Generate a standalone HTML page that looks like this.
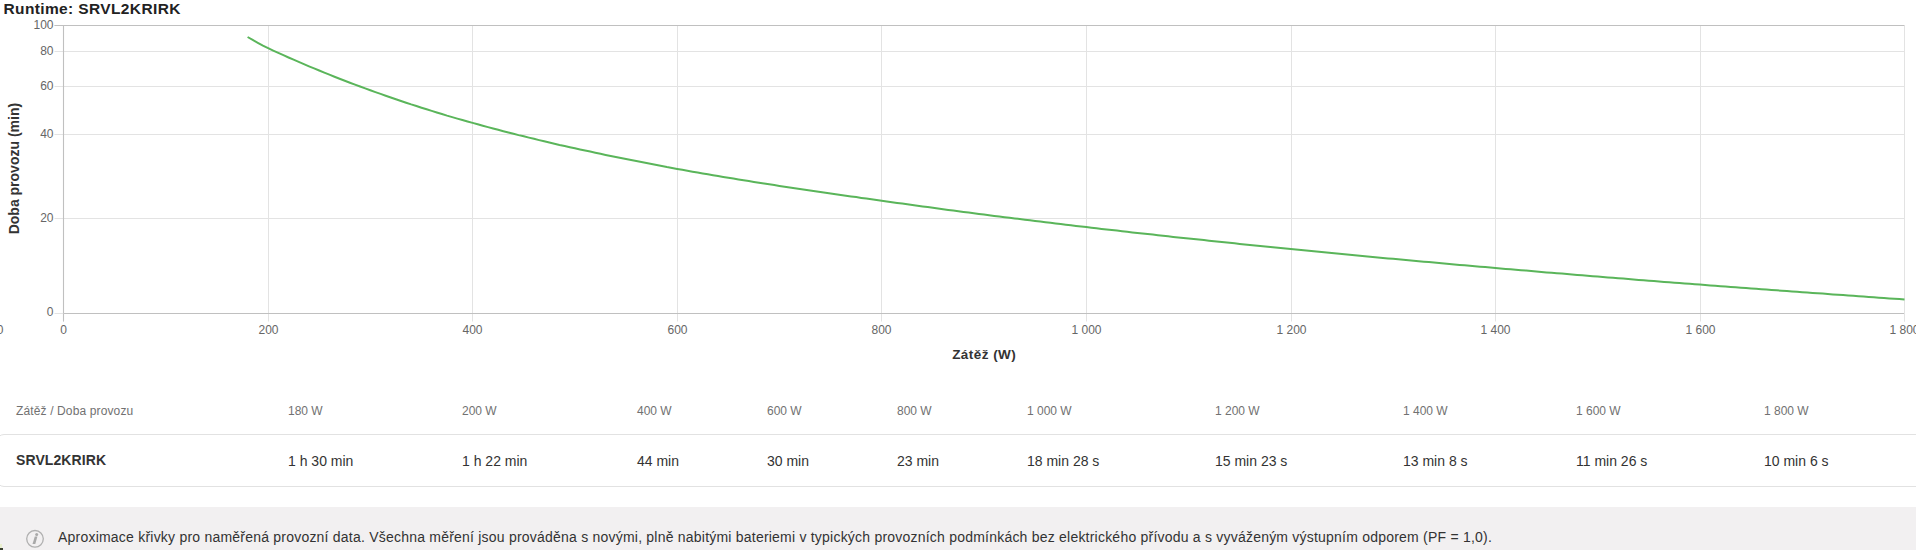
<!DOCTYPE html>
<html><head><meta charset="utf-8"><style>
html,body{margin:0;padding:0;background:#fff;width:1916px;height:550px;overflow:hidden;position:relative;font-family:"Liberation Sans",sans-serif;}
svg{position:absolute;left:0;top:0}
.title{position:absolute;left:3.5px;top:-0.5px;font-weight:bold;font-size:15.5px;letter-spacing:0.37px;color:#222;white-space:nowrap;line-height:18px}
.g{stroke:#e3e3e3;stroke-width:1}
.ax{stroke:#c0c0c0;stroke-width:1.1}
.tl{font-size:12px;fill:#666;font-family:"Liberation Sans",sans-serif}
.at{font-size:13px;font-weight:bold;fill:#333;font-family:"Liberation Sans",sans-serif;letter-spacing:0.6px}
.h{position:absolute;top:404px;font-size:12px;color:#717171;white-space:nowrap;line-height:14px}
.v{position:absolute;top:453px;font-size:14px;color:#333;white-space:nowrap;line-height:16px}
.rowbox{position:absolute;left:-4px;top:434px;width:1940px;height:51px;border:1px solid #e2e2e2;border-radius:8px;}
.note{position:absolute;left:0;top:507px;width:1916px;height:60px;background:#f2f0f1;}
.nt{position:absolute;left:58px;top:529px;font-size:14px;color:#333;white-space:nowrap;line-height:16px;letter-spacing:0.218px}
</style></head><body>
<div class="title">Runtime: SRVL2KRIRK</div>
<div class="rowbox"></div>
<div class="note"></div>
<svg width="1916" height="550" viewBox="0 0 1916 550">
<line x1="63.5" y1="25.5" x2="63.5" y2="321.5" class="g"/>
<line x1="268.5" y1="25.5" x2="268.5" y2="321.5" class="g"/>
<line x1="472.5" y1="25.5" x2="472.5" y2="321.5" class="g"/>
<line x1="677.5" y1="25.5" x2="677.5" y2="321.5" class="g"/>
<line x1="881.5" y1="25.5" x2="881.5" y2="321.5" class="g"/>
<line x1="1086.5" y1="25.5" x2="1086.5" y2="321.5" class="g"/>
<line x1="1291.5" y1="25.5" x2="1291.5" y2="321.5" class="g"/>
<line x1="1495.5" y1="25.5" x2="1495.5" y2="321.5" class="g"/>
<line x1="1700.5" y1="25.5" x2="1700.5" y2="321.5" class="g"/>
<line x1="1904.5" y1="25.5" x2="1904.5" y2="321.5" class="g"/>
<line x1="54.5" y1="25.5" x2="1904.5" y2="25.5" class="g"/>
<line x1="54.5" y1="51.5" x2="1904.5" y2="51.5" class="g"/>
<line x1="54.5" y1="86.5" x2="1904.5" y2="86.5" class="g"/>
<line x1="54.5" y1="134.5" x2="1904.5" y2="134.5" class="g"/>
<line x1="54.5" y1="218.5" x2="1904.5" y2="218.5" class="g"/>
<line x1="54.5" y1="25.5" x2="1904.5" y2="25.5" class="ax"/>
<line x1="63.5" y1="25.5" x2="63.5" y2="321.5" class="ax"/>
<line x1="54.5" y1="313.5" x2="63.5" y2="313.5" class="g"/><line x1="63.5" y1="313.5" x2="1904.5" y2="313.5" class="ax"/>
<line x1="1904.5" y1="25.5" x2="1904.5" y2="321.5" class="g"/>
<path d="M247.6,37.0 L252.7,39.9 L257.8,42.8 L262.9,45.7 L268.1,48.2 L273.2,50.6 L278.3,52.9 L283.4,55.2 L288.5,57.5 L293.6,59.7 L298.7,61.9 L303.9,64.1 L309.0,66.3 L314.1,68.4 L319.2,70.5 L324.3,72.6 L329.4,74.7 L334.5,76.7 L339.6,78.7 L344.8,80.7 L349.9,82.7 L355.0,84.6 L360.1,86.5 L365.2,88.4 L370.3,90.3 L375.4,92.1 L380.6,93.9 L385.7,95.7 L390.8,97.5 L395.9,99.3 L401.0,101.0 L406.1,102.7 L411.2,104.4 L416.4,106.0 L421.5,107.7 L426.6,109.3 L431.7,110.9 L436.8,112.5 L441.9,114.0 L447.0,115.6 L452.2,117.1 L457.3,118.6 L462.4,120.0 L467.5,121.5 L472.6,122.9 L477.7,124.3 L482.8,125.7 L488.0,127.1 L493.1,128.5 L498.2,129.8 L503.3,131.2 L508.4,132.5 L513.5,133.8 L518.6,135.1 L523.8,136.3 L528.9,137.6 L534.0,138.8 L539.1,140.1 L544.2,141.3 L549.3,142.5 L554.4,143.7 L559.5,144.9 L564.7,146.0 L569.8,147.2 L574.9,148.3 L580.0,149.4 L585.1,150.5 L590.2,151.6 L595.3,152.7 L600.5,153.8 L605.6,154.9 L610.7,156.0 L615.8,157.0 L620.9,158.0 L626.0,159.1 L631.1,160.1 L636.3,161.1 L641.4,162.1 L646.5,163.1 L651.6,164.1 L656.7,165.1 L661.8,166.0 L666.9,167.0 L672.1,167.9 L677.2,168.9 L682.3,169.8 L687.4,170.7 L692.5,171.7 L697.6,172.6 L702.7,173.5 L707.9,174.3 L713.0,175.2 L718.1,176.1 L723.2,176.9 L728.3,177.8 L733.4,178.6 L738.5,179.5 L743.6,180.3 L748.8,181.1 L753.9,181.9 L759.0,182.8 L764.1,183.6 L769.2,184.3 L774.3,185.1 L779.4,185.9 L784.6,186.7 L789.7,187.5 L794.8,188.2 L799.9,189.0 L805.0,189.8 L810.1,190.5 L815.2,191.3 L820.4,192.0 L825.5,192.7 L830.6,193.5 L835.7,194.2 L840.8,195.0 L845.9,195.7 L851.0,196.4 L856.2,197.1 L861.3,197.9 L866.4,198.6 L871.5,199.3 L876.6,200.0 L881.7,200.8 L886.8,201.5 L892.0,202.2 L897.1,202.9 L902.2,203.6 L907.3,204.3 L912.4,205.0 L917.5,205.7 L922.6,206.4 L927.7,207.1 L932.9,207.8 L938.0,208.5 L943.1,209.2 L948.2,209.9 L953.3,210.5 L958.4,211.2 L963.5,211.9 L968.7,212.6 L973.8,213.2 L978.9,213.9 L984.0,214.5 L989.1,215.2 L994.2,215.9 L999.3,216.5 L1004.5,217.2 L1009.6,217.8 L1014.7,218.4 L1019.8,219.1 L1024.9,219.7 L1030.0,220.3 L1035.1,221.0 L1040.3,221.6 L1045.4,222.2 L1050.5,222.8 L1055.6,223.5 L1060.7,224.1 L1065.8,224.7 L1070.9,225.3 L1076.0,225.9 L1081.2,226.5 L1086.3,227.1 L1091.4,227.7 L1096.5,228.3 L1101.6,228.9 L1106.7,229.5 L1111.8,230.1 L1117.0,230.6 L1122.1,231.2 L1127.2,231.8 L1132.3,232.4 L1137.4,232.9 L1142.5,233.5 L1147.6,234.1 L1152.8,234.6 L1157.9,235.2 L1163.0,235.8 L1168.1,236.3 L1173.2,236.9 L1178.3,237.4 L1183.4,238.0 L1188.6,238.5 L1193.7,239.1 L1198.8,239.6 L1203.9,240.1 L1209.0,240.7 L1214.1,241.2 L1219.2,241.7 L1224.4,242.3 L1229.5,242.8 L1234.6,243.3 L1239.7,243.9 L1244.8,244.4 L1249.9,244.9 L1255.0,245.4 L1260.2,245.9 L1265.3,246.5 L1270.4,247.0 L1275.5,247.5 L1280.6,248.0 L1285.7,248.5 L1290.8,249.0 L1295.9,249.5 L1301.1,250.0 L1306.2,250.5 L1311.3,251.0 L1316.4,251.5 L1321.5,252.0 L1326.6,252.5 L1331.7,253.0 L1336.9,253.5 L1342.0,254.0 L1347.1,254.5 L1352.2,255.0 L1357.3,255.5 L1362.4,256.0 L1367.5,256.5 L1372.7,256.9 L1377.8,257.4 L1382.9,257.9 L1388.0,258.4 L1393.1,258.8 L1398.2,259.3 L1403.3,259.8 L1408.5,260.3 L1413.6,260.7 L1418.7,261.2 L1423.8,261.7 L1428.9,262.1 L1434.0,262.6 L1439.1,263.0 L1444.2,263.5 L1449.4,264.0 L1454.5,264.4 L1459.6,264.9 L1464.7,265.3 L1469.8,265.8 L1474.9,266.2 L1480.0,266.7 L1485.2,267.1 L1490.3,267.6 L1495.4,268.0 L1500.5,268.4 L1505.6,268.9 L1510.7,269.3 L1515.8,269.8 L1521.0,270.2 L1526.1,270.6 L1531.2,271.1 L1536.3,271.5 L1541.4,271.9 L1546.5,272.4 L1551.6,272.8 L1556.8,273.2 L1561.9,273.6 L1567.0,274.1 L1572.1,274.5 L1577.2,274.9 L1582.3,275.3 L1587.4,275.7 L1592.6,276.2 L1597.7,276.6 L1602.8,277.0 L1607.9,277.4 L1613.0,277.8 L1618.1,278.2 L1623.2,278.6 L1628.3,279.0 L1633.5,279.4 L1638.6,279.9 L1643.7,280.3 L1648.8,280.7 L1653.9,281.1 L1659.0,281.5 L1664.1,281.9 L1669.3,282.3 L1674.4,282.7 L1679.5,283.1 L1684.6,283.5 L1689.7,283.8 L1694.8,284.2 L1699.9,284.6 L1705.1,285.0 L1710.2,285.4 L1715.3,285.8 L1720.4,286.2 L1725.5,286.6 L1730.6,287.0 L1735.7,287.3 L1740.9,287.7 L1746.0,288.1 L1751.1,288.5 L1756.2,288.8 L1761.3,289.2 L1766.4,289.6 L1771.5,290.0 L1776.7,290.3 L1781.8,290.7 L1786.9,291.1 L1792.0,291.4 L1797.1,291.8 L1802.2,292.2 L1807.3,292.5 L1812.5,292.9 L1817.6,293.3 L1822.7,293.6 L1827.8,294.0 L1832.9,294.4 L1838.0,294.7 L1843.1,295.1 L1848.2,295.5 L1853.4,295.8 L1858.5,296.2 L1863.6,296.6 L1868.7,296.9 L1873.8,297.3 L1878.9,297.7 L1884.0,298.0 L1889.2,298.4 L1894.3,298.8 L1899.4,299.1 L1904.5,299.5" fill="none" stroke="#5ab55a" stroke-width="2"/>
<text x="53.5" y="28.9" text-anchor="end" class="tl">100</text><text x="53.5" y="54.9" text-anchor="end" class="tl">80</text><text x="53.5" y="89.9" text-anchor="end" class="tl">60</text><text x="53.5" y="137.9" text-anchor="end" class="tl">40</text><text x="53.5" y="221.9" text-anchor="end" class="tl">20</text><text x="53.5" y="315.7" text-anchor="end" class="tl">0</text>
<text x="63.5" y="334.2" text-anchor="middle" class="tl">0</text><text x="268.5" y="334.2" text-anchor="middle" class="tl">200</text><text x="472.5" y="334.2" text-anchor="middle" class="tl">400</text><text x="677.5" y="334.2" text-anchor="middle" class="tl">600</text><text x="881.5" y="334.2" text-anchor="middle" class="tl">800</text><text x="1086.5" y="334.2" text-anchor="middle" class="tl">1 000</text><text x="1291.5" y="334.2" text-anchor="middle" class="tl">1 200</text><text x="1495.5" y="334.2" text-anchor="middle" class="tl">1 400</text><text x="1700.5" y="334.2" text-anchor="middle" class="tl">1 600</text><text x="1904.5" y="334.2" text-anchor="middle" class="tl">1 800</text><text x="0" y="334.2" text-anchor="middle" class="tl">0</text>
<text transform="translate(18.7,168.6) rotate(-90)" text-anchor="middle" class="at" style="font-size:14px;letter-spacing:0">Doba provozu (min)</text>
<text x="984.2" y="358.9" text-anchor="middle" class="at" style="font-size:13.5px;letter-spacing:0.45px">Zátěž (W)</text>
<g transform="translate(35,538.8)"><circle r="8.3" fill="none" stroke="#b0b0b0" stroke-width="1.3"/><path d="M-0.2,-2.3 L2.4,-2.3 L0.3,5.1 L-2.5,5.1 Z" fill="#a9a9a9"/><circle cx="1.7" cy="-4.4" r="1.5" fill="#a9a9a9"/></g>
</svg>
<div class="h" style="left:16px;letter-spacing:0.13px">Zátěž / Doba provozu</div>
<div class="h" style="left:288px">180 W</div><div class="h" style="left:462px">200 W</div><div class="h" style="left:637px">400 W</div><div class="h" style="left:767px">600 W</div><div class="h" style="left:897px">800 W</div><div class="h" style="left:1027px">1 000 W</div><div class="h" style="left:1215px">1 200 W</div><div class="h" style="left:1403px">1 400 W</div><div class="h" style="left:1576px">1 600 W</div><div class="h" style="left:1764px">1 800 W</div>
<div class="v" style="left:16px;font-weight:bold;top:452px;letter-spacing:0.1px">SRVL2KRIRK</div>
<div class="v" style="left:288px">1 h 30 min</div><div class="v" style="left:462px">1 h 22 min</div><div class="v" style="left:637px">44 min</div><div class="v" style="left:767px">30 min</div><div class="v" style="left:897px">23 min</div><div class="v" style="left:1027px">18 min 28 s</div><div class="v" style="left:1215px">15 min 23 s</div><div class="v" style="left:1403px">13 min 8 s</div><div class="v" style="left:1576px">11 min 26 s</div><div class="v" style="left:1764px">10 min 6 s</div>
<div style="position:absolute;left:0;top:544px;width:2px;height:4px;background:#e9efcf"></div><div style="position:absolute;left:0;top:548px;width:3px;height:2px;background:#3a4030"></div>
<div class="nt">Aproximace křivky pro naměřená provozní data. Všechna měření jsou prováděna s novými, plně nabitými bateriemi v typických provozních podmínkách bez elektrického přívodu a s vyváženým výstupním odporem (PF = 1,0).</div>
</body></html>
